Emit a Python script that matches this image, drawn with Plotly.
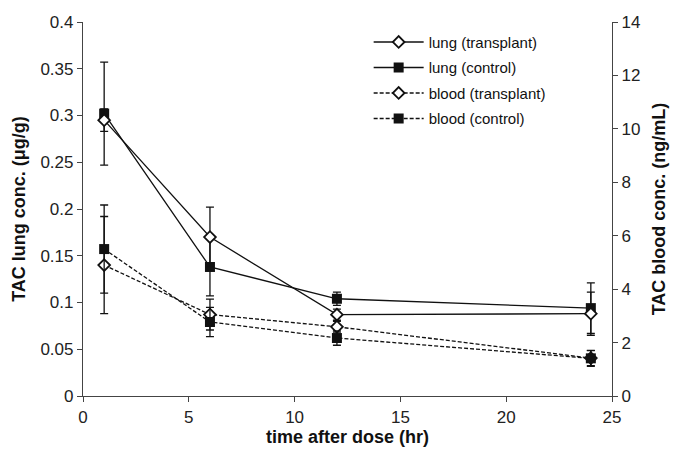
import plotly.graph_objects as go

time_hr = [1, 6, 12, 24]

lung_transplant = [0.295, 0.170, 0.087, 0.088]
lung_transplant_err = [0.012, 0.032, 0.006, 0.023]
lung_control = [0.302, 0.138, 0.104, 0.094]
lung_control_err = [0.055, 0.031, 0.007, 0.027]

blood_transplant = [4.9, 3.05, 2.59, 1.42]
blood_transplant_err = [1.82, 0.58, 0.20, 0.28]
blood_control = [5.5, 2.77, 2.17, 1.41]
blood_control_err = [1.65, 0.55, 0.27, 0.30]

names = ["lung (transplant)", "lung (control)", "blood (transplant)", "blood (control)"]

FONT = "Liberation Sans, Arial, sans-serif"
INK = "#111111"
DASH = "4px,2px"

def err(vals):
    return dict(type="data", array=vals, visible=True, color=INK, thickness=1.3, width=4)

sq = dict(symbol="square", size=10, color=INK, line=dict(color=INK, width=0))
dia = dict(symbol="diamond", size=9, color="white", line=dict(color=INK, width=1.8))

fig = go.Figure()
fig.add_trace(go.Scatter(
    x=time_hr, y=lung_control, name=names[1], mode="lines+markers",
    line=dict(color=INK, width=1.3), marker=sq,
    error_y=err(lung_control_err), yaxis="y", legendgroup="g2", legendrank=2))
fig.add_trace(go.Scatter(
    x=time_hr, y=lung_transplant, name=names[0], mode="lines+markers",
    line=dict(color=INK, width=1.3), marker=dia,
    error_y=err(lung_transplant_err), yaxis="y", legendgroup="g1", legendrank=1))
fig.add_trace(go.Scatter(
    x=time_hr, y=blood_transplant, name=names[2], mode="lines+markers",
    line=dict(color=INK, width=1.3, dash=DASH), marker=dia,
    error_y=err(blood_transplant_err), yaxis="y2", legendgroup="g3", legendrank=3))
fig.add_trace(go.Scatter(
    x=time_hr, y=blood_control, name=names[3], mode="lines+markers",
    line=dict(color=INK, width=1.3, dash=DASH), marker=sq,
    error_y=err(blood_control_err), yaxis="y2", legendgroup="g4", legendrank=4))

axis_common = dict(
    showgrid=False, zeroline=False, showline=True, linecolor="#444", linewidth=1.2,
    ticks="outside", ticklen=5, tickcolor="#444", tickwidth=1.2,
    tickfont=dict(family=FONT, size=17, color="#222"), automargin=False,
)

fig.update_layout(
    width=674, height=451,
    margin=dict(l=83, r=62, t=22, b=55),
    paper_bgcolor="white", plot_bgcolor="white",
    font=dict(family=FONT, color="#222"),
    xaxis=dict(range=[0, 25], dtick=5, **axis_common,
               title=dict(text="<b>time after dose (hr)</b>", font=dict(family=FONT, size=18, color="#111"), standoff=4)),
    yaxis=dict(range=[0, 0.4], dtick=0.05, **axis_common,
               title=dict(text="<b>TAC lung conc. (μg/g)</b>", font=dict(family=FONT, size=18, color="#111"), standoff=10)),
    yaxis2=dict(range=[0, 14], dtick=2, overlaying="y", side="right", **axis_common,
                title=dict(text="<b>TAC blood conc. (ng/mL)</b>", font=dict(family=FONT, size=18, color="#111"), standoff=12)),
    legend=dict(x=0.54, y=0.99, xanchor="left", yanchor="top", bgcolor="rgba(0,0,0,0)",
                font=dict(family=FONT, size=15, color="#111"), itemwidth=50,
                traceorder="grouped", tracegroupgap=3),
    showlegend=True,
)

fig.write_html("out.html")
